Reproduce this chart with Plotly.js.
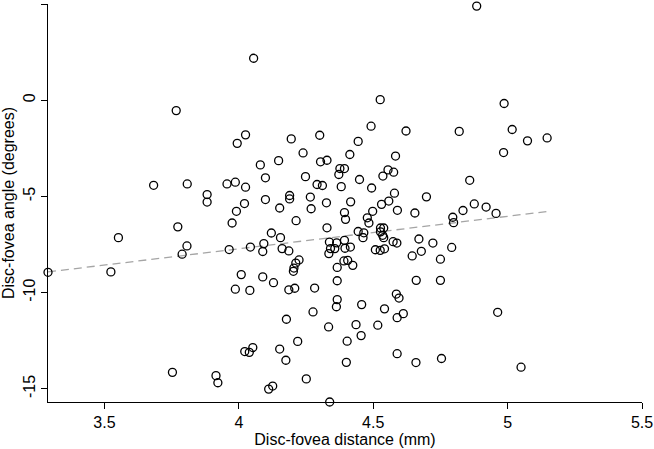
<!DOCTYPE html>
<html>
<head>
<meta charset="utf-8">
<script src="https://cdn.plot.ly/plotly-3.0.1.min.js"></script>
<style>
  html, body { margin: 0; padding: 0; background: #fff; }
  #chart { width: 654px; height: 449px; }
</style>
</head>
<body>
<div id="chart"></div>
<script>
// disc-fovea distance (mm) per eye
var distance = [
  4.055, 3.767, 4.025, 3.994, 4.195, 4.301, 4.239, 4.080, 4.148, 4.304,
  4.328, 4.099, 4.248, 3.683, 3.808, 3.956, 3.987, 4.025, 4.291, 4.311,
  3.882, 3.882, 4.189, 4.189, 4.266, 4.099, 4.021, 4.326, 4.152, 4.269,
  3.991, 4.213, 3.975, 3.773, 4.328, 4.121, 4.885, 4.526, 4.987, 4.492,
  4.622, 4.820, 5.017, 5.074, 5.147, 4.985, 4.444, 4.413, 4.583, 4.376,
  4.393, 4.372, 4.555, 4.576, 4.536, 4.449, 4.859, 4.381, 4.494, 4.579,
  4.698, 4.416, 4.558, 4.531, 4.393, 4.498, 4.590, 4.655, 4.397, 4.478,
  4.484, 4.796, 4.799, 4.834, 4.876, 4.920, 4.957, 4.444, 4.465, 4.462,
  4.527, 4.539, 4.527, 4.535, 4.539, 3.290, 3.524, 3.552, 3.807, 3.789,
  3.964, 4.043, 4.093, 4.089, 4.155, 4.161, 4.186, 4.337, 4.335, 4.009,
  4.089, 4.129, 3.987, 4.041, 4.186, 4.208, 4.282, 4.203, 4.205, 4.212,
  4.224, 4.276, 4.177, 4.334, 4.219, 4.022, 4.039, 4.052, 4.152, 4.175,
  3.753, 3.915, 3.922, 4.111, 4.126, 4.251, 4.338, 4.364, 4.393, 4.341,
  4.357, 4.395, 4.415, 4.508, 4.526, 4.542, 4.574, 4.588, 4.670, 4.722,
  4.792, 4.645, 4.679, 4.750, 4.391, 4.405, 4.424, 4.366, 4.366, 4.660,
  4.750, 4.586, 4.596, 4.366, 4.363, 4.457, 4.542, 4.612, 4.589, 4.963,
  4.436, 4.517, 4.403, 4.455, 4.589, 4.754, 4.400, 4.659, 5.050
];

// disc-fovea angle (degrees), same order
var angle = [
   2.18,  -0.54,  -1.80,  -2.24,  -2.01,  -1.82,  -2.74,  -3.36,  -3.14,  -3.20,
  -3.12,  -4.03,  -3.97,  -4.42,  -4.35,  -4.35,  -4.26,  -4.52,  -4.38,  -4.43,
  -4.90,  -5.29,  -4.95,  -5.13,  -5.03,  -5.16,  -5.37,  -5.33,  -5.60,  -5.64,
  -5.77,  -6.26,  -6.38,  -6.58,  -6.63,  -6.90,   4.89,   0.03,  -0.17,  -1.35,
  -1.60,  -1.62,  -1.52,  -2.11,  -1.96,  -2.72,  -2.14,  -2.82,  -2.90,  -3.55,
  -3.55,  -3.86,  -3.62,  -3.74,  -3.94,  -4.12,  -4.16,  -4.49,  -4.56,  -4.83,
  -5.02,  -5.28,  -5.24,  -5.41,  -5.84,  -5.77,  -5.72,  -5.86,  -6.19,  -6.11,
  -6.38,  -6.08,  -6.36,  -5.73,  -5.39,  -5.55,  -5.88,  -6.82,  -6.89,  -7.14,
  -6.64,  -6.64,  -6.84,  -7.02,  -7.14,  -8.94,  -8.92,  -7.14,  -7.57,  -8.00,
  -7.76,  -7.63,  -7.45,  -7.86,  -7.14,  -7.71,  -7.83,  -7.37,  -7.97,  -9.06,
  -9.18,  -9.48,  -9.82,  -9.88,  -9.85,  -9.77,  -9.76,  -8.89,  -8.72,  -8.46,
  -8.30, -11.00, -11.38, -11.78, -12.53, -13.06, -13.10, -12.85, -12.93, -13.51,
 -14.14, -14.31, -14.68, -15.01, -14.85, -14.48, -15.68,  -7.41,  -7.28,  -7.71,
  -7.71,  -7.69,  -7.63,  -7.77,  -7.80,  -7.72,  -7.35,  -7.42,  -7.21,  -7.42,
  -7.65,  -8.09,  -7.85,  -8.26,  -8.35,  -8.32,  -8.58,  -8.69,  -9.38,  -9.36,
  -9.36, -10.07, -10.28, -10.36, -10.73, -10.62, -10.84, -11.09, -11.30, -11.02,
 -11.66, -11.69, -12.52, -12.23, -13.17, -13.42, -13.62, -13.63, -13.87
];

// fitted regression line (angle = a + b * distance)
var fitIntercept = -14.48;
var fitSlope = 1.69;

var xTicks = [3.5, 4, 4.5, 5, 5.5];
var yTicks = [-15, -10, -5, 0, 5];

var xMin = Math.min.apply(null, distance);
var xMax = Math.max.apply(null, distance);
var fitX = [xMin, xMax];
var fitY = fitX.map(function (d) { return fitIntercept + fitSlope * d; });

var points = {
  x: distance,
  y: angle,
  type: 'scatter',
  mode: 'markers',
  marker: {
    symbol: 'circle-open',
    size: 8,
    color: '#000',
    line: { width: 1.3, color: '#000' }
  },
  cliponaxis: false,
  hoverinfo: 'x+y'
};

var fit = {
  x: fitX,
  y: fitY,
  type: 'scatter',
  mode: 'lines',
  line: { color: 'rgb(165,165,165)', width: 1.3, dash: '8px,5px' },
  hoverinfo: 'skip'
};

var font = { family: 'Liberation Sans, Arial, Helvetica, sans-serif', size: 16, color: '#000' };

var layout = {
  width: 654,
  height: 449,
  margin: { l: 48, r: 12, t: 4, b: 47 },
  paper_bgcolor: '#fff',
  plot_bgcolor: '#fff',
  showlegend: false,
  font: font,
  xaxis: {
    range: [3.29, 5.5],
    tickvals: xTicks,
    ticktext: xTicks.map(String),
    showgrid: false,
    zeroline: false,
    showline: true,
    linecolor: '#000',
    linewidth: 1,
    ticks: 'outside',
    ticklen: 6,
    tickcolor: '#000',
    tickfont: font,
    title: { text: 'Disc-fovea distance (mm)', font: font, standoff: 3 }
  },
  yaxis: {
    range: [-15.68, 5],
    tickvals: yTicks,
    ticktext: yTicks.map(String),
    tickangle: -90,
    showgrid: false,
    zeroline: false,
    showline: true,
    linecolor: '#000',
    linewidth: 1,
    ticks: 'outside',
    ticklen: 6,
    tickcolor: '#000',
    tickfont: font,
    title: { text: 'Disc-fovea angle (degrees)', font: font, standoff: 4 }
  }
};

Plotly.newPlot('chart', [fit, points], layout, { displayModeBar: false, staticPlot: true });
</script>
</body>
</html>
